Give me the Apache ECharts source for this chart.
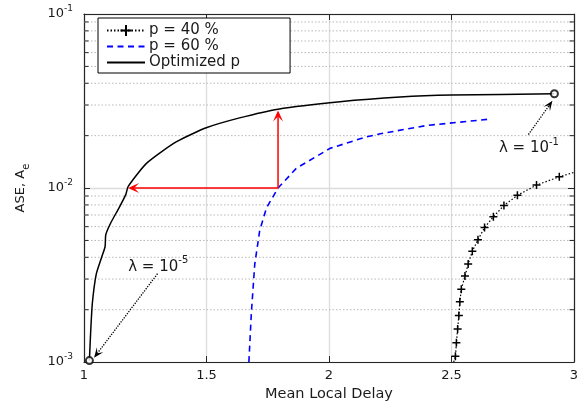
<!DOCTYPE html>
<html><head><meta charset="utf-8">
<script src="https://cdn.jsdelivr.net/npm/echarts@6/dist/echarts.min.js"></script>
<style>html,body{margin:0;padding:0;background:#fff}#c{width:585px;height:407px}</style>
</head><body><div id="c"></div>
<script>
// ---- data ----
const xTicks = [1, 1.5, 2, 2.5, 3];
const yTicks = [0.001, 0.01, 0.1];
const minorY = [0.002,0.003,0.004,0.005,0.006,0.007,0.008,0.009,0.02,0.03,0.04,0.05,0.06,0.07,0.08,0.09];

const seriesNames = ['p = 40 %', 'p = 60 %', 'Optimized p'];

const p40X = [2.509, 2.516, 2.520, 2.525, 2.530, 2.534, 2.540, 2.555, 2.568, 2.585, 2.608, 2.635, 2.671, 2.714, 2.769, 2.847, 2.940, 3.000];
const p40Y = [0.00100, 0.00108, 0.00129, 0.00155, 0.00185, 0.00222, 0.00262, 0.00312, 0.00366, 0.00433, 0.00505, 0.00593, 0.00684, 0.00794, 0.00908, 0.0104, 0.0116, 0.0123];

const p60X = [1.673, 1.683, 1.697, 1.717, 1.745, 1.792, 1.867, 2.004, 2.148, 2.209, 2.400, 2.646];
const p60Y = [0.00100, 0.00191, 0.00366, 0.00568, 0.00770, 0.0100, 0.0130, 0.0169, 0.0196, 0.0205, 0.0229, 0.0248];

const optX = [1.022, 1.027, 1.034, 1.050, 1.072, 1.086, 1.089, 1.109, 1.143, 1.171, 1.180, 1.256, 1.376, 1.499, 1.635, 1.792, 2.045, 2.290, 2.500, 2.920];
const optY = [0.00102, 0.00147, 0.00217, 0.00320, 0.00400, 0.00460, 0.00540, 0.00630, 0.00770, 0.00920, 0.0102, 0.0139, 0.0184, 0.0222, 0.0253, 0.0284, 0.0313, 0.0333, 0.0342, 0.0348];

const endX = [1.022, 2.920];
const endY = [0.00102, 0.0348];

// red arrows: [x1, y1, x2, y2]
const redArrows = [[1.792, 0.0100, 1.180, 0.0100], [1.792, 0.0100, 1.792, 0.0279]];
// dotted annotation arrows
const noteArrows = [[1.300, 0.00322, 1.041, 0.00106], [2.814, 0.0203, 2.912, 0.0317]];
const noteX = [1.303, 2.816];
const noteY = [0.00353, 0.0169];
const noteExp = ['-5', '-1'];

// ---- chart ----
const FONT = 'DejaVu Sans';
const TXT = '#1a1a1a';
const AX = '#262626';
const chart = echarts.init(document.getElementById('c'));

function zip(xs, ys){ return xs.map((x,i)=>[x, ys[i]]); }

function arrowItem(api, color, dash, L, W, lw){
  const p1 = api.coord([api.value(0), api.value(1)]);
  const p2 = api.coord([api.value(2), api.value(3)]);
  const dx = p2[0]-p1[0], dy = p2[1]-p1[1];
  const len = Math.hypot(dx, dy) || 1;
  const ux = dx/len, uy = dy/len, nx = -uy, ny = ux;
  const back = [p2[0]-ux*L, p2[1]-uy*L];
  const notch = [p2[0]-ux*L*0.55, p2[1]-uy*L*0.55];
  return {type:'group', children:[
    {type:'line', shape:{x1:p1[0], y1:p1[1], x2:notch[0], y2:notch[1]}, style:{stroke:color, lineWidth:lw, lineDash:dash}},
    {type:'polygon', shape:{points:[p2, [back[0]+nx*W/2, back[1]+ny*W/2], notch, [back[0]-nx*W/2, back[1]-ny*W/2]]}, style:{fill:color}}
  ]};
}

const supRich = {
  a: {fontSize: 13, lineHeight: 20, fontFamily: FONT, color: TXT},
  s: {fontSize: 9, lineHeight: 8, verticalAlign: 'top', fontFamily: FONT, color: TXT}
};

const option = {
  animation: false,
  backgroundColor: '#fff',
  grid: {left: 84, right: 11, top: 14, bottom: 41, containLabel: false},
  legend: {
    data: [
      {name: seriesNames[0]},
      {name: seriesNames[1], itemStyle: {opacity: 0}},
      {name: seriesNames[2], itemStyle: {opacity: 0}}
    ],
    orient: 'vertical',
    left: 98, top: 18,
    padding: [5, 50, 3, 8],
    itemGap: 1,
    itemWidth: 38, itemHeight: 14,
    backgroundColor: '#fff',
    borderColor: '#000', borderWidth: 1, borderRadius: 0,
    textStyle: {fontFamily: FONT, fontSize: 15, color: TXT, padding: [0,0,0,-1]},
    selectedMode: false
  },
  xAxis: [{
    type: 'value', min: 1, max: 3, interval: 0.5, position: 'bottom',
    name: 'Mean Local Delay', nameLocation: 'middle', nameGap: 22,
    nameTextStyle: {fontFamily: FONT, fontSize: 14.5, color: TXT},
    axisLine: {show: true, lineStyle: {color: AX, width: 1.2}},
    axisTick: {show: true, inside: true, length: 6, lineStyle: {color: AX, width: 1}},
    axisLabel: {fontFamily: FONT, fontSize: 13, color: TXT, margin: 7, showMinLabel: true, showMaxLabel: true},
    splitLine: {show: true, lineStyle: {color: '#dcdcdc', width: 1.3}}
  }, {
    type: 'value', min: 1, max: 3, interval: 0.5, position: 'top',
    axisLine: {show: true, lineStyle: {color: AX, width: 1.2}},
    axisTick: {show: true, inside: true, length: 6, lineStyle: {color: AX, width: 1}},
    axisLabel: {show: false}, splitLine: {show: false}
  }],
  yAxis: [{
    type: 'log', logBase: 10, min: yTicks[0], max: yTicks[yTicks.length-1], position: 'left',
    name: '{a|ASE, A}{e|e}', nameLocation: 'middle', nameGap: 53,
    nameTextStyle: {rich: {
      a: {fontFamily: FONT, fontSize: 13, color: TXT, lineHeight: 20},
      e: {fontFamily: FONT, fontSize: 10, color: TXT, lineHeight: 8, verticalAlign: 'bottom'}
    }},
    axisLine: {show: true, lineStyle: {color: AX, width: 1.2}},
    axisTick: {show: true, inside: true, length: 6, lineStyle: {color: AX, width: 1}},
    axisLabel: {
      margin: 11, showMinLabel: true, showMaxLabel: true,
      formatter: v => '{a|10}{s|' + Math.round(Math.log10(v)) + '}',
      rich: supRich
    },
    splitLine: {show: true, lineStyle: {color: '#dcdcdc', width: 1.3}}
  }, {
    type: 'log', logBase: 10, min: yTicks[0], max: yTicks[yTicks.length-1], position: 'right',
    axisLine: {show: true, lineStyle: {color: AX, width: 1.2}},
    axisTick: {show: true, inside: true, length: 6, lineStyle: {color: AX, width: 1}},
    axisLabel: {show: false}, splitLine: {show: false}
  }],
  series: [
    {
      name: 'minor', type: 'custom', z: 1, silent: true, clip: false,
      data: minorY.map(v => [1, v]),
      renderItem: function(params, api){
        const cs = params.coordSys;
        const y = api.coord([1, api.value(1)])[1];
        return {type:'group', children:[
          {type:'line', shape:{x1:cs.x, y1:y, x2:cs.x+cs.width, y2:y}, style:{stroke:'#b8b8b8', lineWidth:1, lineDash:[1.5,2]}},
          {type:'line', shape:{x1:cs.x, y1:y, x2:cs.x+4.5, y2:y}, style:{stroke:AX, lineWidth:1}},
          {type:'line', shape:{x1:cs.x+cs.width-4.5, y1:y, x2:cs.x+cs.width, y2:y}, style:{stroke:AX, lineWidth:1}}
        ]};
      }
    },
    {
      name: seriesNames[0], type: 'line', z: 3, clip: true,
      data: p40X.map((x,i) => (i === 0 || i === p40X.length-1) ? {value:[x, p40Y[i]], symbol:'none'} : [x, p40Y[i]]),
      symbol: 'path://M0,4L8,4M4,0L4,8', symbolSize: 8, showSymbol: true,
      color: '#000',
      itemStyle: {color: '#000', borderColor: '#000', borderWidth: 1.5},
      lineStyle: {color: '#000', width: 1.2, type: [1.5, 2]}
    },
    {
      name: seriesNames[1], type: 'line', z: 3, clip: true,
      data: zip(p60X, p60Y), symbol: 'none', smooth: false,
      color: '#0000ff',
      lineStyle: {color: '#0000ff', width: 1.6, type: [6, 4.5]}
    },
    {
      name: seriesNames[2], type: 'line', z: 3, clip: true,
      data: zip(optX, optY), symbol: 'none', smooth: 0.2,
      color: '#000',
      lineStyle: {color: '#000', width: 1.5}
    },
    {
      name: 'ends', type: 'scatter', z: 5,
      data: zip(endX, endY),
      symbol: 'emptyCircle', symbolSize: 7,
      itemStyle: {color: '#000', borderColor: '#000', borderWidth: 1.6}
    },
    {
      name: 'redArrows', type: 'custom', z: 4, silent: true, clip: false,
      data: redArrows,
      renderItem: (params, api) => arrowItem(api, '#ff0000', null, 11, 10, 1.5)
    },
    {
      name: 'noteArrows', type: 'custom', z: 4, silent: true, clip: false,
      data: noteArrows,
      renderItem: (params, api) => arrowItem(api, '#000', [1.3, 1.3], 10, 8, 1.3)
    },
    {
      name: 'notes', type: 'custom', z: 4, silent: true, clip: false,
      data: noteX.map((x,i) => [x, noteY[i], i]),
      renderItem: function(params, api){
        const p = api.coord([api.value(0), api.value(1)]);
        const e = noteExp[api.value(2)];
        return {type:'text', x: p[0], y: p[1], style:{
          text: '{a|λ = 10}{s|' + e + '}', align:'center', verticalAlign:'middle',
          rich: {
            a: {fontSize: 15, lineHeight: 22, fontFamily: FONT, fill: TXT},
            s: {fontSize: 10, lineHeight: 9, verticalAlign: 'top', fontFamily: FONT, fill: TXT}
          }
        }};
      }
    }
  ]
};
chart.setOption(option);
</script>
</body></html>
